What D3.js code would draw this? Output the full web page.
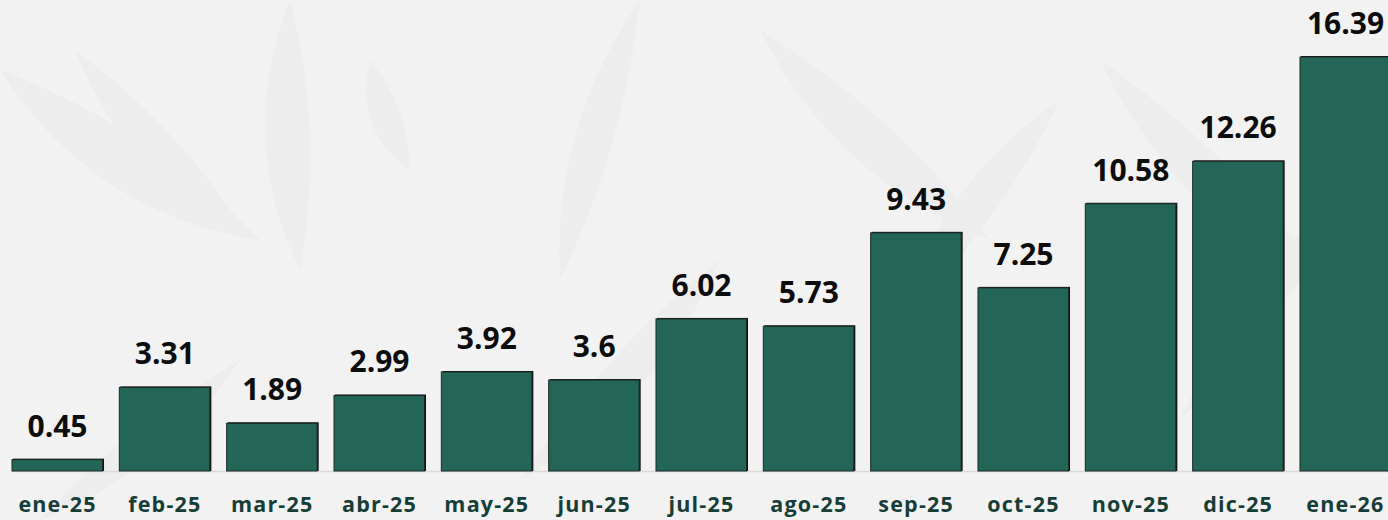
<!DOCTYPE html>
<html>
<head>
<meta charset="utf-8">
<script src="https://cdn.jsdelivr.net/npm/d3@7"></script>
<style>
  html, body { margin: 0; padding: 0; background: #f2f2f2; }
  svg { display: block; font-family: "Open Sans", "Noto Sans", sans-serif; }
</style>
</head>
<body>
<svg id="chart" width="1388" height="520"></svg>
<script>
var months = ["ene-25", "feb-25", "mar-25", "abr-25", "may-25", "jun-25", "jul-25",
              "ago-25", "sep-25", "oct-25", "nov-25", "dic-25", "ene-26"];
var values = [0.45, 3.31, 1.89, 2.99, 3.92, 3.6, 6.02, 5.73, 9.43, 7.25, 10.58, 12.26, 16.39];
var valueLabels = ["0.45", "3.31", "1.89", "2.99", "3.92", "3.6", "6.02", "5.73", "9.43", "7.25", "10.58", "12.26", "16.39"];

var svg = d3.select("#chart"),
  width = +svg.attr("width"),
  height = +svg.attr("height");

var data = months.map(function(m, i) { return {month: m, value: values[i], label: valueLabels[i]}; });

// faint leaf pattern in the background
var bg = svg.append("g");
bg.append("rect").attr("width", width).attr("height", height).attr("fill", "#f2f2f2");
var leaves = [
  [0, 70, 260, 240, 70],  [75, 50, 250, 240, 50], [290, 0, 300, 270, 60],
  [410, 170, 370, 60, -40], [640, 0, 560, 280, 50], [760, 30, 990, 240, 60],
  [900, 320, 1060, 100, -50], [1100, 60, 1340, 300, 60], [1180, 420, 1380, 160, -40],
  [520, 480, 720, 260, 50], [40, 520, 240, 360, 40]
];
bg.selectAll("path")
  .data(leaves)
  .enter().append("path")
    .attr("d", function(d) {
      var mx = (d[0] + d[2]) / 2, my = (d[1] + d[3]) / 2;
      var dx = d[2] - d[0], dy = d[3] - d[1], len = Math.sqrt(dx * dx + dy * dy);
      var nx = -dy / len * d[4], ny = dx / len * d[4];
      return "M" + d[0] + "," + d[1] +
        " Q" + (mx + nx) + "," + (my + ny) + " " + d[2] + "," + d[3] +
        " Q" + (mx - nx * 0.5) + "," + (my - ny * 0.5) + " " + d[0] + "," + d[1] + "Z";
    })
    .attr("fill", "#ededed");

var x = d3.scaleBand()
  .domain(months)
  .range([12, 1391])
  .paddingInner(0.152)
  .paddingOuter(0);

var y = d3.scaleLinear()
  .domain([0, 16.39])
  .range([471, 57]);

var g = svg.append("g");

// baseline
g.append("line")
  .attr("x1", 12).attr("x2", width)
  .attr("y1", y(0) + 0.5).attr("y2", y(0) + 0.5)
  .attr("stroke", "#d9d9d9")
  .attr("stroke-width", 1.5);

// bar shadow
g.selectAll(".shadow")
  .data(data)
  .enter().append("rect")
    .attr("class", "shadow")
    .attr("x", function(d) { return x(d.month) + 1; })
    .attr("y", function(d) { return y(d.value) - 1; })
    .attr("width", x.bandwidth())
    .attr("height", function(d) { return y(0) - y(d.value) + 1; })
    .attr("fill", "#111");

g.selectAll(".bar")
  .data(data)
  .enter().append("rect")
    .attr("class", "bar")
    .attr("x", function(d) { return x(d.month); })
    .attr("y", function(d) { return y(d.value); })
    .attr("width", x.bandwidth() - 0.5)
    .attr("height", function(d) { return y(0) - y(d.value); })
    .attr("fill", "#236556")
    .attr("stroke", "#1c2a26")
    .attr("stroke-width", 1);

// value labels
g.selectAll(".value")
  .data(data)
  .enter().append("text")
    .attr("class", "value")
    .attr("x", function(d) { return x(d.month) + x.bandwidth() / 2; })
    .attr("y", function(d) { return y(d.value) - 23; })
    .attr("text-anchor", "middle")
    .attr("font-size", 30)
    .attr("font-weight", 700)
    .attr("fill", "#0d0d0d")
    .text(function(d) { return d.label; });

// x axis labels
var xAxis = svg.append("g")
  .attr("transform", "translate(0," + y(0) + ")")
  .call(d3.axisBottom(x).tickSize(0).tickPadding(26));
xAxis.select(".domain").remove();
xAxis.selectAll("text")
  .attr("font-family", "\"Open Sans\", \"Noto Sans\", sans-serif")
  .attr("font-size", 21.5)
  .attr("font-weight", 700)
  .attr("letter-spacing", 1.2)
  .attr("fill", "#173d37");
</script>
</body>
</html>
